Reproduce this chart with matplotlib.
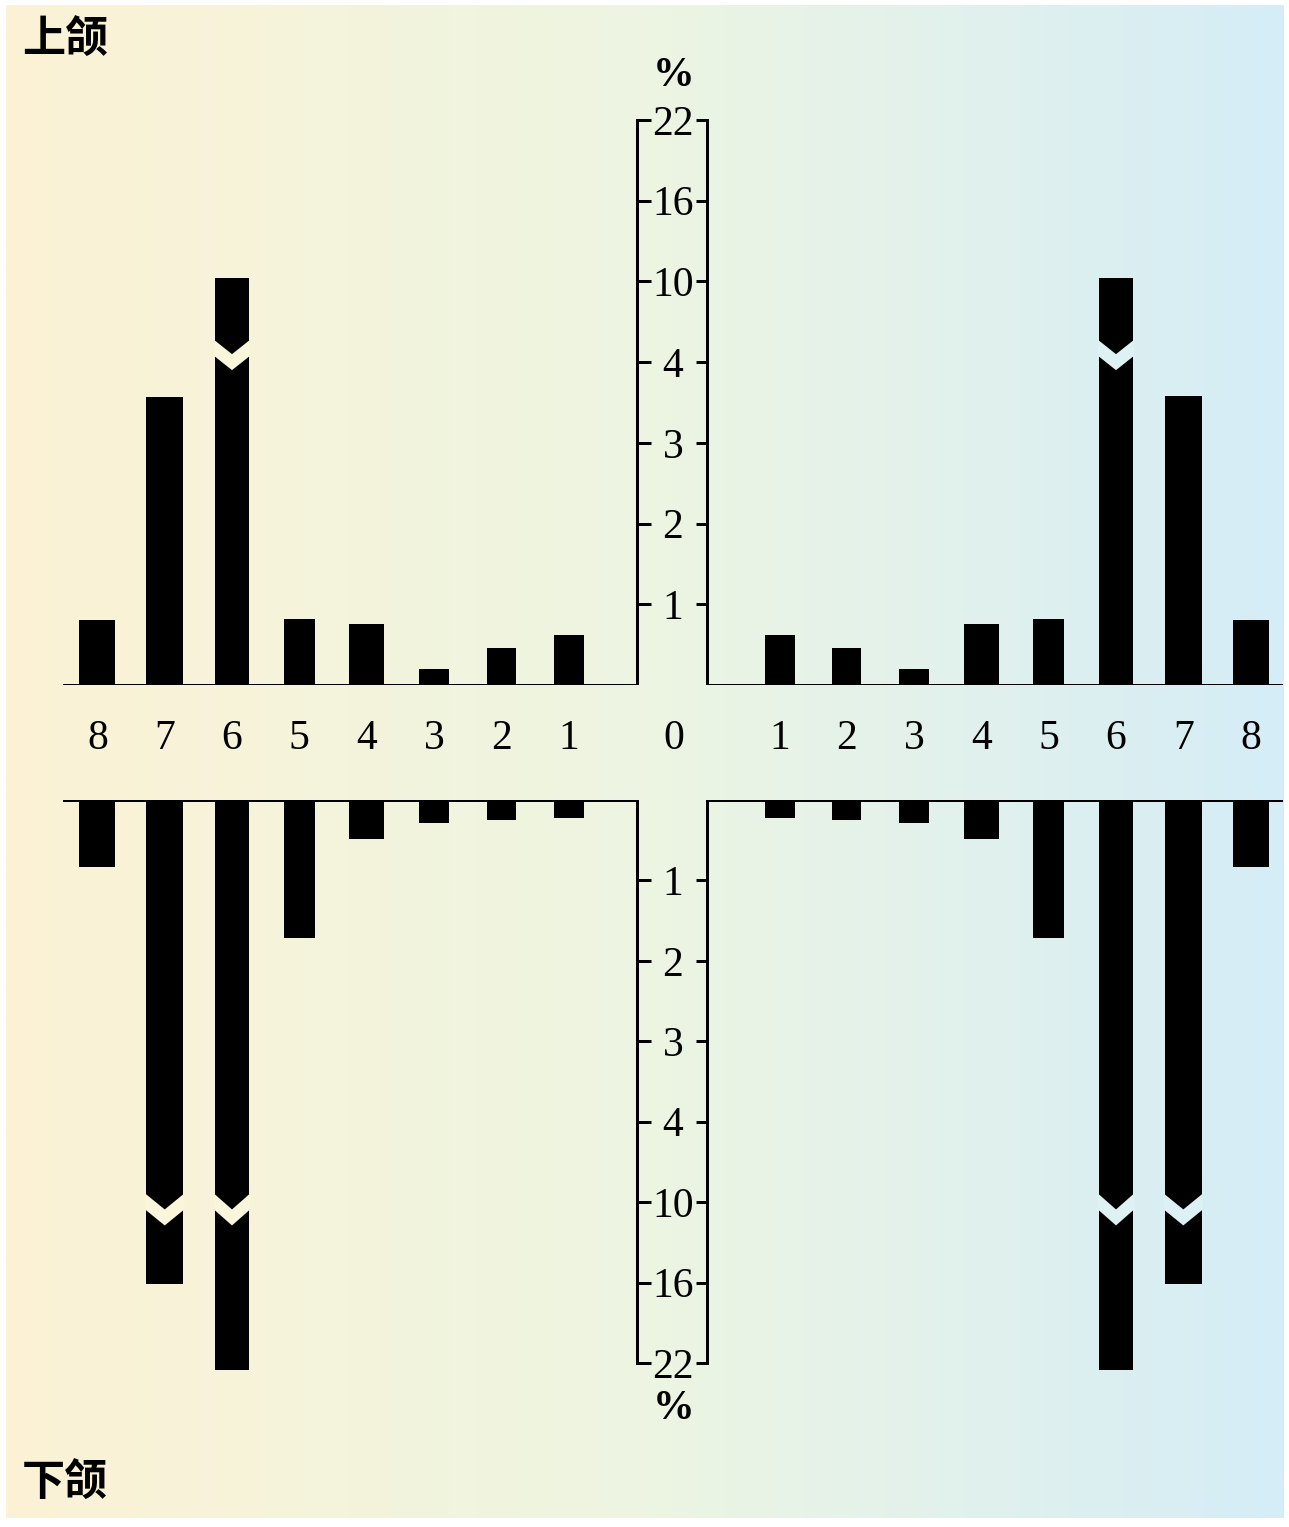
import numpy as np
import matplotlib
matplotlib.use("Agg")
import matplotlib.pyplot as plt
from matplotlib.patches import Polygon
from matplotlib.transforms import blended_transform_factory

# ---------------- data ----------------
teeth = [1, 2, 3, 4, 5, 6, 7, 8]
upper_left = [0.62, 0.46, 0.20, 0.75, 0.82, 10.25, 3.57, 0.81]
upper_right = [0.62, 0.46, 0.20, 0.75, 0.82, 10.25, 3.58, 0.80]
lower_left = [0.22, 0.25, 0.29, 0.48, 1.72, 22.5, 16.1, 0.83]
lower_right = [0.22, 0.25, 0.29, 0.48, 1.72, 22.5, 16.1, 0.83]
tick_values = [1, 2, 3, 4, 10, 16, 22]
tick_labels = ["1", "2", "3", "4", "10", "16", "22"]
center_label = "0"
upper_title = "上颌"
lower_title = "下颌"
unit_label = "%"
broken_upper = [6]
broken_lower = [6, 7]

# ---------------- layout ----------------
W, H, DPI = 1289, 1527, 100
CX = 674.0                      # centre of the figure (px)
gap, step = 105.5, 67.3         # tooth spacing (px)
bar_w = [30, 29, 29.5, 35, 30.5, 34.5, 37.5, 36]
UP_BASE, UP_PPP = 685.0, 80.71  # baseline px, px per scale unit
LO_BASE, LO_PPP = 800.0, 80.43
NPOS = 7.4
LW = 3 * 72 / DPI
SERIF = "Liberation Serif"
CJK = ["Noto Sans CJK SC", "DejaVu Sans"]


def fwd(v):
    v = np.asarray(v, dtype=float)
    return np.where(v <= 4, v, 4 + (v - 4) / 6.0)


def inv(p):
    p = np.asarray(p, dtype=float)
    return np.where(p <= 4, p, 4 + (p - 4) * 6.0)


stops_x = [0.0, 0.5, 1.0]
stops_c = np.array([[252, 242, 213], [237, 245, 226], [213, 237, 247]]) / 255.0


def bg_color(px):
    f = px / W
    return [float(np.interp(f, stops_x, stops_c[:, i])) for i in range(3)]


fig = plt.figure(figsize=(W / DPI, H / DPI), dpi=DPI)
fig.patch.set_facecolor("white")

# background gradient
bg = fig.add_axes([0, 0, 1, 1], zorder=-10)
xs = np.linspace(0, W, 400)
grad = np.array([[bg_color(x) for x in xs]])
bg.imshow(grad, aspect="auto", extent=(6, 1284, 1518, 5), interpolation="bilinear")
bg.set_xlim(0, W)
bg.set_ylim(H, 0)
bg.axis("off")

ax_up = fig.add_axes([0, 1 - UP_BASE / H, 1, NPOS * UP_PPP / H])
ax_lo = fig.add_axes([0, 1 - (LO_BASE + NPOS * LO_PPP) / H, 1, NPOS * LO_PPP / H])

xl_line, xr_line = 637 - CX, 707 - CX
x_left_end, x_right_end = 64 - CX, 1281 - CX

for ax, ppp, lower in ((ax_up, UP_PPP, False), (ax_lo, LO_PPP, True)):
    ax.set_facecolor("none")
    ax.set_yscale("function", functions=(fwd, inv))
    ax.set_xlim(-CX, W - CX)
    if lower:
        ax.set_ylim(float(inv(NPOS)), 0)
    else:
        ax.set_ylim(0, float(inv(NPOS)))
    ax.axis("off")
    # frame lines
    ax.plot([x_left_end, xl_line, xl_line], [0, 0, 22], color="black", lw=LW,
            solid_joinstyle="miter", solid_capstyle="projecting", zorder=4)
    ax.plot([x_right_end, xr_line, xr_line], [0, 0, 22], color="black", lw=LW,
            solid_joinstyle="miter", solid_capstyle="projecting", zorder=4)
    ax.hlines(tick_values, xl_line, xl_line + 14, color="black", lw=LW, zorder=4)
    ax.hlines(tick_values, xr_line - 11, xr_line, color="black", lw=LW, zorder=4)
    for v, lab in zip(tick_values, tick_labels):
        ax.text(-1, v, lab, ha="center", va="center_baseline", fontsize=30,
                family=SERIF, color="black", zorder=5)

xpos = [gap + (k - 1) * step for k in teeth]
x_left = [-x for x in xpos]
x_right = xpos

ax_up.bar(x_left, upper_left, width=bar_w, color="black", zorder=2)
ax_up.bar(x_right, upper_right, width=bar_w, color="black", zorder=2)
ax_lo.bar(x_left, lower_left, width=bar_w, color="black", zorder=2)
ax_lo.bar(x_right, lower_right, width=bar_w, color="black", zorder=2)


def chevron(ax, xc, hw, side_pos, apex_pos, thick):
    xl, xr = xc - hw - 1, xc + hw + 1
    pts = [(xl, side_pos + thick / 2), (xc, apex_pos + thick / 2), (xr, side_pos + thick / 2),
           (xr, side_pos - thick / 2), (xc, apex_pos - thick / 2), (xl, side_pos - thick / 2)]
    pts = [(x, float(inv(p))) for x, p in pts]
    col = [min(1, c + 0.01) for c in bg_color(xc + CX)]
    ax.add_patch(Polygon(pts, closed=True, facecolor=col, edgecolor="none", zorder=3))


for k in broken_upper:
    for sgn in (-1, 1):
        xc = sgn * xpos[k - 1]
        chevron(ax_up, xc, bar_w[k - 1] / 2, 4.18, 4.0, 16 / UP_PPP)
for k in broken_lower:
    for sgn in (-1, 1):
        xc = sgn * xpos[k - 1]
        chevron(ax_lo, xc, bar_w[k - 1] / 2, 4.99, 5.19, 16 / LO_PPP)

# tooth number labels
tr = blended_transform_factory(ax_up.transData, fig.transFigure)
ylab = 1 - 734 / H
for k, xl, xr in zip(teeth, x_left, x_right):
    ax_up.text(xl, ylab, str(k), transform=tr, ha="center", va="center_baseline",
               fontsize=30, family=SERIF)
    ax_up.text(xr, ylab, str(k), transform=tr, ha="center", va="center_baseline",
               fontsize=30, family=SERIF)
ax_up.text(0, ylab, center_label, transform=tr, ha="center", va="center_baseline",
           fontsize=30, family=SERIF)

fig.text(CX / W, 1 - 76 / H, unit_label, ha="center", va="center", fontsize=30,
         family=SERIF, weight="bold")
fig.text(CX / W, 1 - 1409 / H, unit_label, ha="center", va="center", fontsize=30,
         family=SERIF, weight="bold")

fig.text(65 / W, 1 - 39 / H, upper_title, ha="center", va="center", fontsize=31,
         family=CJK, weight="bold")
fig.text(65 / W, 1 - 1482 / H, lower_title, ha="center", va="center", fontsize=31,
         family=CJK, weight="bold")

fig.savefig("out.png", dpi=DPI)
